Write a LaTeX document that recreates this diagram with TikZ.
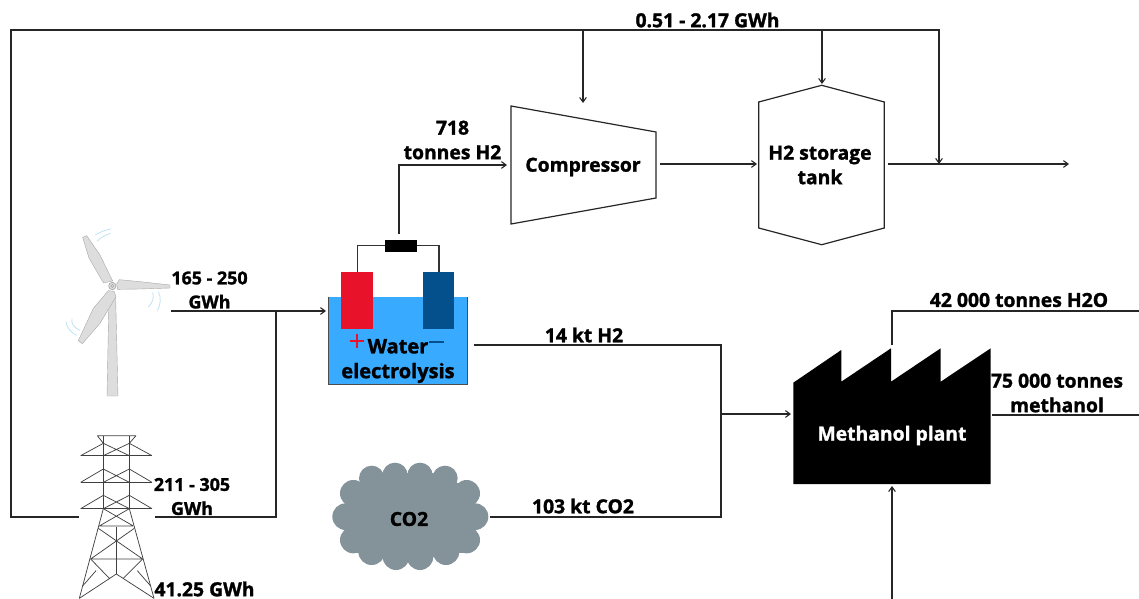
\documentclass[tikz,border=0pt]{standalone}
\usepackage{fontspec}
\setmainfont{Open Sans}[BoldFeatures={FakeBold=1.4}]
\usetikzlibrary{arrows.meta}
\definecolor{cloudc}{HTML}{84939A}
\definecolor{waterc}{HTML}{38AAFF}
\definecolor{redc}{HTML}{E8132A}
\definecolor{bluec}{HTML}{03508C}
\definecolor{turb}{HTML}{DDDDDD}
\definecolor{turbe}{HTML}{A8A8A8}
\definecolor{wind}{HTML}{BFE3F5}
\tikzset{
  lbl/.style={font=\bfseries\fontsize{14.5}{18.4}\selectfont,inner sep=0pt,align=center,text=black},
  lblsmall/.style={lbl,font=\bfseries\fontsize{13.4}{18}\selectfont},
  lblbig/.style={lbl,font=\bfseries\fontsize{15}{18.6}\selectfont},
  line/.style={draw=black!85,line width=0.9pt},
  arrow/.style={line,-{Straight Barb[length=3.5pt,width=5pt,line width=0.8pt]}},
  shapeline/.style={draw=black!85,line width=0.9pt,line join=miter},
  pyl/.style={draw=black!75,line width=0.55pt},
}
\begin{document}
\begin{tikzpicture}[x=0.75pt,y=-0.75pt]
\useasboundingbox (0,0) rectangle (1139,599);
% wind turbine
\begin{scope}[shift={(40,220)},x=0.25pt,y=-0.25pt]
  \fill[turb,draw=turbe,line width=0.3pt] (207,232) -- (227,232) -- (234,528) -- (201,528) -- cycle;
  \fill[turb,draw=turbe,line width=0.3pt] (128,52) -- (140,47) -- (180,105) -- (218,183) -- (205,186) -- (190,188) -- (147,114) -- cycle;
  \fill[turb,draw=turbe,line width=0.3pt] (390,195) -- (390,204) -- (300,207) -- (233,208) -- (230,192) -- (238,179) -- (300,185) -- cycle;
  \fill[turb,draw=turbe,line width=0.3pt] (115,362) -- (127,371) -- (180,310) -- (228,230) -- (222,214) -- (205,212) -- (160,265) -- cycle;
  \fill[turb,draw=turbe,line width=0.5pt] (217,198) circle (11);
  \draw[turbe,line width=0.4pt] (217,198) circle (5);
  \draw[wind,line width=0.6pt] (166,45) .. controls (180,36) and (195,30) .. (213,27);
  \draw[wind,line width=0.6pt] (171,64) .. controls (183,52) and (197,44) .. (212,40);
  \draw[wind,line width=0.6pt] (338,217) .. controls (343,232) and (338,248) .. (325,261);
  \draw[wind,line width=0.6pt] (355,215) .. controls (364,232) and (362,255) .. (352,272);
  \draw[wind,line width=0.6pt] (96,295) .. controls (92,310) and (102,323) .. (120,331);
  \draw[wind,line width=0.6pt] (78,305) .. controls (80,322) and (92,338) .. (110,346);
\end{scope}
% pylon
\begin{scope}[shift={(40,220)},x=0.25pt,y=-0.25pt]
  \draw[pyl] (172,647) -- (288,647) (172,647) -- (190,670) (288,647) -- (268,670);
  \draw[pyl] (190,647) -- (190,866) (268,647) -- (268,866);
  \foreach \a/\b in {670/707,747/787,826/866}{
    \draw[pyl] (122,\b) -- (336,\b);
    \draw[pyl] (122,\b) -- (190,\a) (336,\b) -- (268,\a);
    \draw[pyl] (190,\a) -- (268,\b) (268,\a) -- (190,\b);
  }
  \draw[pyl] (190,866) -- (118,1135) (268,866) -- (342,1135);
  \draw[pyl] (190,866) -- (280,918) (268,866) -- (178,918) (178,918) -- (280,918);
  \draw[pyl] (175,925) -- (308,1017) (283,925) -- (152,1017) (152,1017) -- (308,1017);
  \draw[pyl] (229,922) -- (229,1062);
  \draw[pyl] (152,1017) -- (208,1075) (308,1017) -- (250,1075);
  \draw[pyl] (229,1062) -- (118,1135) (229,1062) -- (342,1135);
  \draw[pyl] (168,1052) -- (128,1098) (292,1052) -- (332,1098);
\end{scope}
% electrolyser
\filldraw[fill=waterc,draw=black!70,line width=0.8pt] (329,297) -- (329,384) -- (467,384) -- (467,297);
\fill[waterc] (329.4,297) rectangle (466.6,383.5);
\fill[redc] (341.3,271.7) rectangle (372.7,328.7);
\fill[bluec] (423,271.7) rectangle (454.3,328.7);
\draw[line,draw=black!80] (357.3,272) -- (357.3,245.7) -- (386,245.7);
\draw[line,draw=black!80] (416,245.7) -- (439,245.7) -- (439,272);
\fill[black] (385.3,240) rectangle (416.7,252.3);
\draw[redc,line width=1.2pt] (349.7,340.7) -- (363.7,340.7) (356.7,333.7) -- (356.7,347.7);
\draw[bluec,line width=1.2pt] (429.3,341.7) -- (444,341.7);
% compressor, tank
\draw[shapeline] (511,106) -- (656,132) -- (656,198) -- (511,224) -- cycle;
\draw[shapeline] (758.7,102) -- (821.7,85.3) -- (884.3,102) -- (884.3,228) -- (821.7,244.7) -- (758.7,228) -- cycle;
% factory
\fill[black] (793.3,382.7) -- (841.3,350) -- (841.3,381.7) -- (891,348.3) -- (891,381.7) -- (940.7,348.3) -- (940.7,381.7) -- (990.7,348.3) -- (990.7,484) -- (793.3,484) -- cycle;
% cloud
\begin{scope}[shift={(320,450)},x=0.25pt,y=-0.25pt]
  \fill[cloudc] (90,100) rectangle (450,310);
  \fill[cloudc] (130,70) rectangle (405,320);
  \foreach \p/\r in {155/85,225/76,300/76,375/85}{\fill[cloudc] (\p,\r) circle (38);}
  \foreach \p/\r in {155/305,228/320,300/320,378/305}{\fill[cloudc] (\p,\r) circle (40);}
  \foreach \p/\r in {100/130,440/130,100/270,440/270}{\fill[cloudc] (\p,\r) circle (40);}
  \foreach \p/\r in {77/200,465/200}{\fill[cloudc] (\p,\r) circle (40);}
\end{scope}
% text nodes
\node[lbl] (compressor) at (583,167) {Compressor};
\node[lbl] (tank) at (820,165) {H2 storage\\tank};
\node[lblbig] (electro) at (398,361) {Water\\electrolysis};
\node[lbl] (co2) at (409,519) {CO2};
\node[lbl,text=white] (plant) at (892,435.5) {Methanol plant};
\node[lbl] (l1) at (707.5,20) {0.51 - 2.17 GWh};
\node[lbl] (l2) at (452.5,140) {718\\tonnes H2};
\node[lblsmall] (l3) at (209.5,290) {165 - 250\\GWh};
\node[lblsmall] (l4) at (192,496.5) {211 - 305\\GWh};
\node[lbl] (l5) at (204.5,589) {41.25 GWh};
\node[lbl] (l6) at (584,335) {14 kt H2};
\node[lbl] (l7) at (583,506) {103 kt CO2};
\node[lbl] (l8) at (1019,300) {42 000 tonnes H2O};
\node[lbl] (l9) at (1057,393) {75 000 tonnes\\methanol};
% anchors
\coordinate (gridW) at (79,517);
\coordinate (gridE) at (155,517);
\coordinate (turbOut) at (171,311);
\coordinate (elIn) at (326,311);
\coordinate (elTop) at (399,234);
\coordinate (elOut) at (474,345);
\coordinate (compIn) at (507,165);
\coordinate (compOut) at (660,164);
\coordinate (compTop) at (583,103);
\coordinate (tankIn) at (757,164);
\coordinate (tankTop) at (822,84);
\coordinate (tankOut) at (888,164);
\coordinate (out) at (1069,164);
\coordinate (co2Out) at (490,517);
\coordinate (mix) at (721,414);
\coordinate (plantIn) at (791,414);
\coordinate (plantTop) at (892,345);
\coordinate (plantE) at (992,415);
\coordinate (plantB) at (892,486);
\coordinate (botEnd) at (892,599);
\coordinate (r1) at (1139,311);
\coordinate (r2) at (1139,415);
\coordinate (junc) at (939,164);
\coordinate (busA) at (583,30);
\coordinate (busB) at (822,30);
% connectors
\draw[arrow] (gridW) -- (11,517) -- (11,30) -| (junc);
\draw[arrow] (busA) -- (compTop);
\draw[arrow] (busB) -- (tankTop);
\draw[arrow] (tankOut) -- (out);
\draw[arrow] (elTop) |- (compIn);
\draw[arrow] (compOut) -- (tankIn);
\draw[arrow] (turbOut) -- (elIn);
\draw[line] (gridE) -- (276,517) -- (276,311);
\draw[line] (elOut) -| (mix);
\draw[line] (co2Out) -| (mix);
\draw[arrow] (mix) -- (plantIn);
\draw[line] (plantTop) |- (r1);
\draw[line] (plantE) -- (r2);
\draw[arrow] (botEnd) -- (plantB);
\end{tikzpicture}
\end{document}
